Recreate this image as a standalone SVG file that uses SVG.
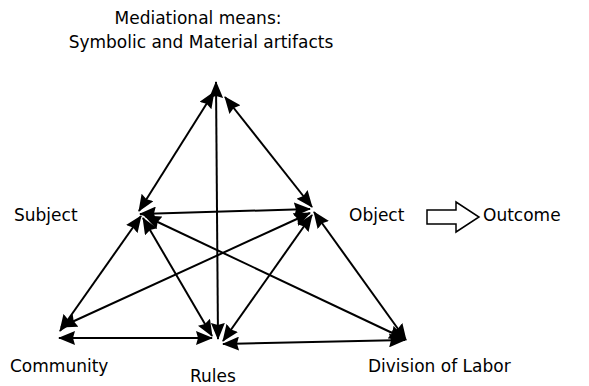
<svg xmlns="http://www.w3.org/2000/svg" width="589" height="386" viewBox="0 0 589 386">
<style>
text{font-family:"DejaVu Sans","Verdana",sans-serif;font-size:17px;fill:#000}
.c line{stroke:#000;stroke-width:2;marker-start:url(#ah);marker-end:url(#ah)}
</style>
<defs>
<marker id="ah" markerUnits="userSpaceOnUse" markerWidth="17" markerHeight="14" refX="16" refY="7" orient="auto-start-reverse" viewBox="0 0 17 14">
<path d="M0,0 L17,7 L0,14 L2,7 z" fill="#000"/>
</marker>
</defs>
<rect width="589" height="386" fill="#fff"/>
<g id="mediational"><text x="198" y="24" text-anchor="middle">Mediational means:</text><text x="201" y="48" text-anchor="middle">Symbolic and Material artifacts</text></g>
<g id="subject"><text x="14" y="221">Subject</text></g>
<g id="object"><text x="349" y="221">Object</text></g>
<g id="outcome"><text x="483" y="221">Outcome</text></g>
<g id="community"><text x="10" y="372">Community</text></g>
<g id="rules"><text x="190" y="382">Rules</text></g>
<g id="division"><text x="368" y="372">Division of Labor</text></g>
<g id="outcome-arrow"><path d="M427,210 H456 V202 L479,217 L456,232 V224 H427 Z" fill="#fff" stroke="#000" stroke-width="1.5"/></g>
<g class="c" id="connectors">
<line x1="139" y1="211" x2="214" y2="92"/>
<line x1="225" y1="97" x2="312" y2="207"/>
<line x1="218" y1="339" x2="216" y2="82"/>
<line x1="140" y1="214" x2="310" y2="209"/>
<line x1="141" y1="216" x2="60" y2="331"/>
<line x1="143" y1="218" x2="212" y2="336"/>
<line x1="145" y1="216" x2="405" y2="339"/>
<line x1="310" y1="213" x2="61" y2="327"/>
<line x1="312" y1="215" x2="223" y2="341"/>
<line x1="314" y1="212" x2="406" y2="340"/>
<line x1="59" y1="338" x2="212" y2="338"/>
<line x1="223" y1="344" x2="405" y2="340"/>
</g>
</svg>
